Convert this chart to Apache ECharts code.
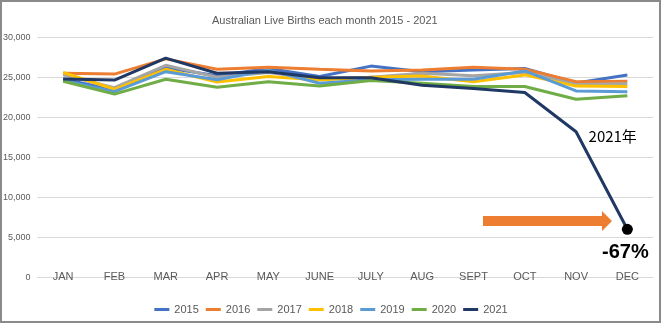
<!DOCTYPE html>
<html><head><meta charset="utf-8">
<script src="https://cdn.jsdelivr.net/npm/echarts@6/dist/echarts.min.js"></script>
<style>html,body{margin:0;padding:0;background:#fff}#c{width:662px;height:325px}</style>
</head><body><div id="c"></div>
<script>
const months = ['JAN','FEB','MAR','APR','MAY','JUNE','JULY','AUG','SEPT','OCT','NOV','DEC'];
const years = ['2015','2016','2017','2018','2019','2020','2021'];
const y2015 = [24800, 23400, 26200, 25200, 26100, 25100, 26400, 25700, 25900, 26100, 24300, 25300];
const y2016 = [25500, 25400, 27300, 26000, 26250, 26000, 25800, 25900, 26250, 26000, 24450, 24500];
const y2017 = [25300, 23700, 26500, 25000, 25600, 24800, 25000, 25500, 25200, 25600, 24100, 24200];
const y2018 = [25600, 23500, 26000, 24400, 25100, 24650, 25000, 25150, 24450, 25300, 23900, 23850];
const y2019 = [24600, 23200, 25700, 24700, 25900, 24250, 24700, 24750, 24750, 25800, 23300, 23200];
const y2020 = [24500, 22900, 24750, 23750, 24450, 23900, 24600, 24250, 23850, 23850, 22250, 22700];
const y2021 = [24800, 24650, 27400, 25500, 25700, 24950, 24950, 24000, 23600, 23100, 18200, 6000];
const yTicks = [0, 5000, 10000, 15000, 20000, 25000, 30000];
const colors = ['#4472C4','#ED7D31','#A5A5A5','#FFC000','#5B9BD5','#70AD47','#1F3864'];
const allData = [y2015, y2016, y2017, y2018, y2019, y2020, y2021];

const FONT = '"Liberation Sans Narrow", "Liberation Sans", Arial, sans-serif';

const series = years.map((y, i) => {
  let data = allData[i].slice();
  if (y === '2021') {
    data = data.map((v, j) => {
      if (j === 11) {
        return {value: v, symbol: 'circle', symbolSize: 11,
          itemStyle: {color: '#000'},
          label: {show: true, position: 'bottom', distance: 8, offset: [-2, 0], formatter: '-67%',
            fontFamily: '"Liberation Sans", Arial, sans-serif', fontWeight: 'bold', fontSize: 20, color: '#000'}};
      }
      if (j === 10) {
        return {value: v, symbol: 'circle', symbolSize: 1,
          itemStyle: {color: colors[6]},
          label: {show: true, position: 'right', distance: 12, offset: [0, 5], formatter: '2021年',
            fontFamily: '"Noto Sans CJK JP", sans-serif', fontSize: 15, color: '#000'}};
      }
      return {value: v, symbol: 'none'};
    });
  }
  return {
    name: y, type: 'line', data: data,
    symbol: 'none', showSymbol: y === '2021',
    lineStyle: {width: 3, color: colors[i]},
    itemStyle: {color: colors[i]},
    emphasis: {disabled: true},
    z: 2 + i
  };
});

const chart = echarts.init(document.getElementById('c'));
chart.setOption({
  animation: false,
  title: {
    text: 'Australian Live Births each month 2015 - 2021',
    left: 207, top: 10,
    textStyle: {fontFamily: FONT, fontSize: 11, fontWeight: 'normal', color: '#595959'}
  },
  legend: {
    data: years, left: 'center', top: 299,
    icon: 'rect', itemWidth: 15, itemHeight: 3, itemGap: 7,
    textStyle: {fontFamily: FONT, fontSize: 11, color: '#595959'}
  },
  grid: {left: 33, right: 9, top: 37.3, bottom: 47.7, containLabel: false},
  xAxis: {
    type: 'category', data: months, boundaryGap: true,
    axisLine: {show: true, lineStyle: {color: '#d9d9d9', width: 1}},
    axisTick: {show: false},
    axisLabel: {fontFamily: FONT, fontSize: 11, color: '#595959', margin: -6}
  },
  yAxis: {
    type: 'value', min: yTicks[0], max: yTicks[yTicks.length - 1], interval: 5000,
    axisLine: {show: false}, axisTick: {show: false},
    axisLabel: {fontFamily: FONT, fontSize: 9, color: '#595959', margin: 7,
      formatter: v => v === 0 ? '0' : v.toLocaleString('en-US')},
    splitLine: {lineStyle: {color: '#d9d9d9', width: 1}}
  },
  series: series,
  graphic: [
    {type: 'rect', shape: {x: 1, y: 1, width: 659, height: 321},
     style: {fill: 'none', stroke: '#8a8a8a', lineWidth: 2}, z: 100},
    {type: 'polygon', shape: {points: [[483,216],[602,216],[602,211],[612,221],[602,231],[602,226],[483,226]]},
     style: {fill: '#ED7D31'}, z: 50}
  ]
});
</script></body></html>
